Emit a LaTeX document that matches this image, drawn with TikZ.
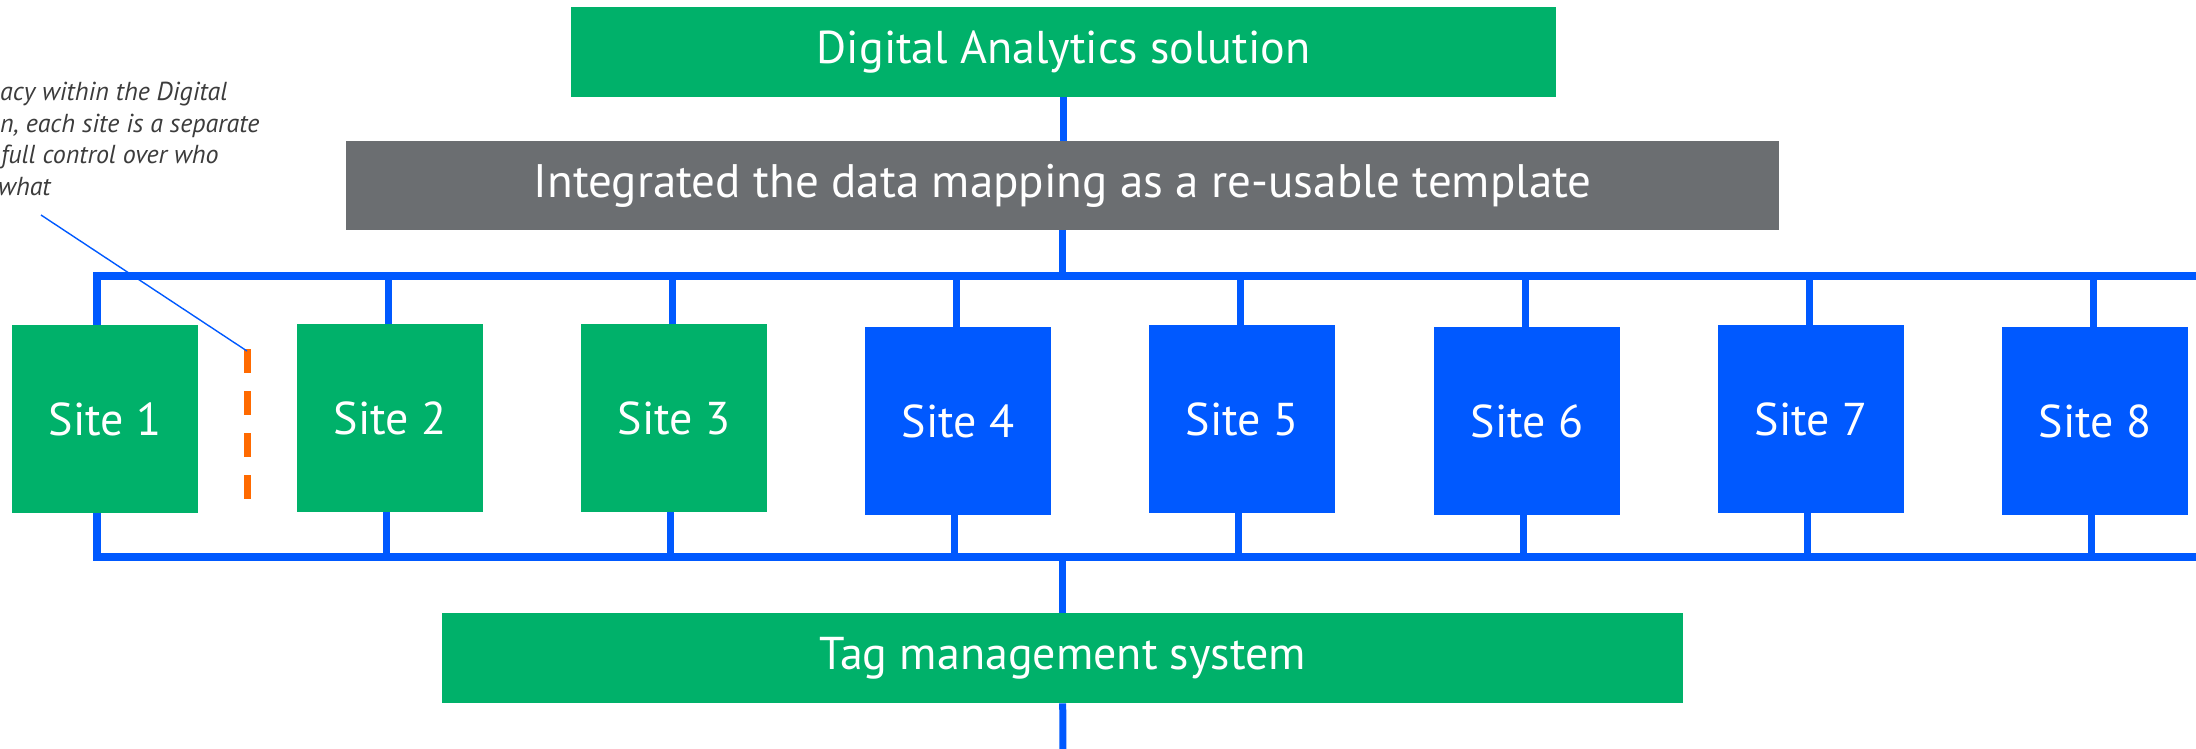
\documentclass[tikz,border=0pt]{standalone}
\usepackage{fontspec}
\setmainfont{PT Sans}
\definecolor{dgreen}{HTML}{00B16A}
\definecolor{dblue}{HTML}{0059FF}
\definecolor{dgray}{HTML}{6B6E71}
\definecolor{dorange}{HTML}{FF6A00}
\definecolor{notegray}{HTML}{3C3C3C}
\begin{document}
\begin{tikzpicture}[x=1pt,y=-1pt,
  box/.style={anchor=north west,inner sep=0pt,text=white,fill=#1},
  banner/.style={box=#1,font=\fontsize{46}{50}\selectfont},
  sitebox/.style={box=#1,minimum width=186pt,minimum height=188pt,font=\fontsize{46}{50}\selectfont},
  wire/.style={draw=dblue,line width=7.5pt},
  stub/.style={draw=dblue,line width=7pt},
  divider/.style={draw=dorange,line width=7pt,dash pattern=on 24pt off 18pt},
  pointer/.style={draw=dblue,line width=1.4pt},
  notetext/.style={anchor=base west,inner sep=0pt,text=notegray,font=\fontsize{26}{30}\itshape}
]
\useasboundingbox (0,0) rectangle (2196,748);

% banners
\node[banner=dgreen,minimum width=985pt,minimum height=90pt] (da) at (571,7) {Digital Analytics solution};
\node[banner=dgray,minimum width=1433pt,minimum height=89pt,font=\fontsize{47}{50}\selectfont] (gi) at (346,141) {Integrated the data mapping as a re-usable template};
\node[banner=dgreen,minimum width=1241pt,minimum height=90pt] (tm) at (442,613) {Tag management system};

% sites
\node[sitebox=dgreen] (s1) at (12,325) {Site 1};
\node[sitebox=dgreen] (s2) at (297,324) {Site 2};
\node[sitebox=dgreen] (s3) at (581,324) {Site 3};
\node[sitebox=dblue] (s4) at (865,327) {Site 4};
\node[sitebox=dblue] (s5) at (1149,325) {Site 5};
\node[sitebox=dblue] (s6) at (1434,327) {Site 6};
\node[sitebox=dblue] (s7) at (1718,325) {Site 7};
\node[sitebox=dblue] (s8) at (2002,327) {Site 8};

% bus coordinates
\coordinate (busT) at (2200,276);
\coordinate (busB) at (2200,557);
\coordinate (exit) at (1063,752);

% vertical connectors
\draw[stub] (da.south) -- (da.south |- gi.north);
\draw[stub] (gi.south) -- (gi.south |- busT);
\draw[stub] (tm.north |- busB) -- (tm.north);
\draw[stub] (tm.south) -- (exit);

% top bus with site 1 corner
\draw[wire] ([xshift=-8pt]s1.north) |- (busT);
\foreach \s in {s2,s3,s4,s5,s6,s7,s8}
  \draw[stub] ([xshift=-2pt]\s.north) -- ([xshift=-2pt]\s.north |- busT);
% bottom bus
\draw[wire] ([xshift=-8pt]s1.south) |- (busB);
\foreach \s in {s2,s3,s4,s5,s6,s7,s8}
  \draw[stub] ([xshift=-4pt]\s.south) -- ([xshift=-4pt]\s.south |- busB);

% note
\node[notetext] (n1) at (0,100) {acy within the Digital};
\node[notetext] (n2) at (0,132) {n, each site is a separate};
\node[notetext] (n3) at (1,163) {full control over who};
\node[notetext] (n4) at (-2,195) {what};

\coordinate (divtop) at (247,349);
\coordinate (divbot) at (247,500);
\coordinate (notept) at (41,215);
\draw[divider] (divtop) -- (divbot);
\draw[pointer] (notept) -- ([yshift=-2pt]divtop);
\end{tikzpicture}
\end{document}
